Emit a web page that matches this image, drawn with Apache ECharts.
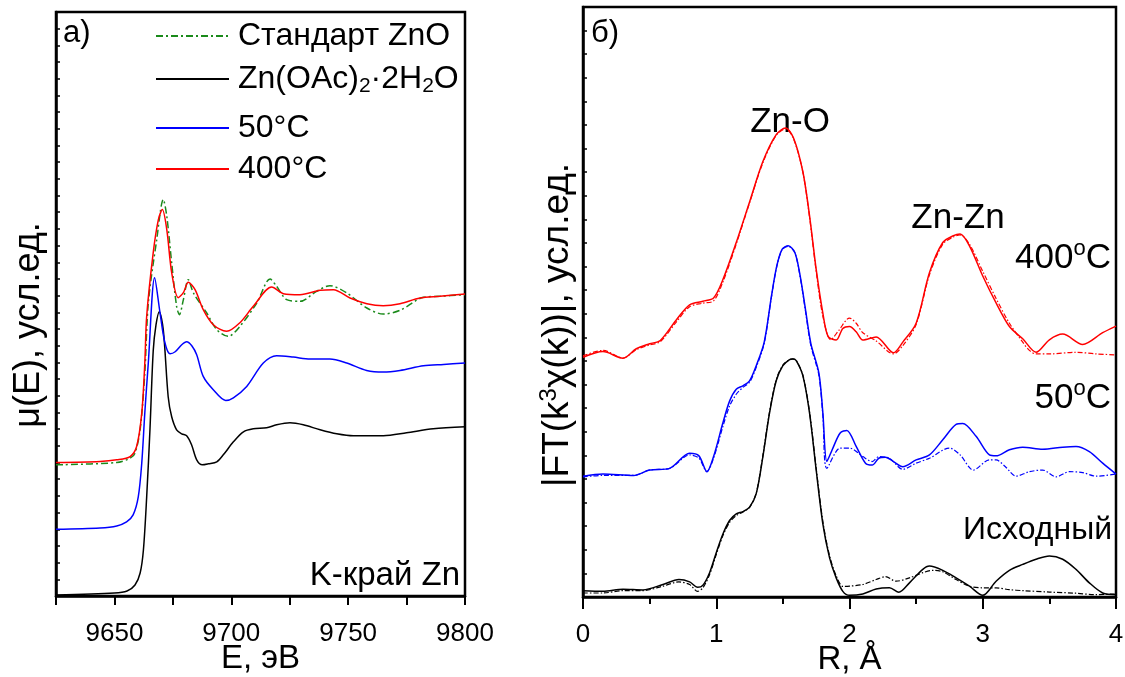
<!DOCTYPE html>
<html>
<head>
<meta charset="utf-8">
<script src="https://cdn.jsdelivr.net/npm/echarts@6/dist/echarts.min.js"></script>
<style>
  html, body { margin: 0; padding: 0; background: #fff; }
  #chart { width: 1125px; height: 677px; }
</style>
</head>
<body>
<div id="chart"></div>
<script>
// ---- panel а) XANES, E (eV) vs mu(E) ----
const eZnO = [9625, 9651, 9656.7, 9658.8, 9661, 9663, 9664.5, 9668.1, 9670.9, 9672.4, 9674.5, 9676.6, 9677.8, 9679.5, 9681.6, 9683.8, 9689.5, 9693.8, 9698.7, 9703.7, 9710.9, 9716.6, 9719.4, 9723.7, 9729.4, 9736.5, 9742.2, 9749.4, 9758, 9765, 9772.2, 9782.2, 9789.3, 9800];
const muZnO = [78.6, 80, 82.6, 85.6, 99.6, 133.6, 175.6, 213.6, 237.6, 227.6, 199.6, 173.6, 168.6, 177.6, 189.6, 181.6, 169.6, 159.6, 155.6, 161.6, 175.6, 190, 185.6, 177.6, 176.6, 182.6, 186, 181.6, 172.6, 169, 171.2, 179, 179.6, 180.6];

const eAc = [9625, 9650, 9655.4, 9658.8, 9661, 9662.4, 9663.8, 9665.2, 9666.6, 9667.8, 9669.2, 9670.9, 9673, 9674.5, 9676.6, 9678.8, 9680.9, 9683, 9685.2, 9687.6, 9690.2, 9693.8, 9696.6, 9700.9, 9705.2, 9709.4, 9715.1, 9719.4, 9725.1, 9730.8, 9738, 9745.1, 9752.2, 9765.1, 9775, 9786.4, 9800];
const muAc = [0.6, 1.8, 3, 6.6, 13.8, 27.6, 59.4, 99.6, 147, 162.6, 170.4, 159.6, 119.4, 107.4, 99.6, 97.2, 96, 90.6, 81.6, 78.6, 79.2, 80.4, 84.6, 92.4, 98.4, 100.2, 100.8, 102.6, 103.8, 102.6, 99.6, 97.2, 96, 96, 97.8, 100.2, 101.4];

const e50 = [9625, 9643.8, 9651, 9655.2, 9658, 9660.2, 9661.7, 9663, 9664.5, 9667.2, 9669.5, 9671.6, 9673.8, 9676, 9678.8, 9680.9, 9683.1, 9685.2, 9688, 9692.3, 9697.6, 9700.9, 9706.6, 9713.7, 9719.4, 9726.5, 9733.7, 9742.2, 9749.4, 9757.9, 9765, 9772.2, 9782.2, 9790.8, 9800];
const mu50 = [40, 40.8, 42, 44.4, 48.6, 59.4, 79.8, 109.8, 139.8, 190.8, 169.8, 151.8, 145.2, 146.4, 150.6, 152.4, 150, 144.6, 131.6, 123.6, 117.2, 118.8, 125.6, 139.6, 144, 143.2, 142, 142, 139.6, 135.2, 134.2, 135.2, 138, 138.8, 139.6];

const e400 = [9625, 9643.8, 9651, 9656.7, 9659.5, 9661.7, 9663, 9663.8, 9666.6, 9668.8, 9670.5, 9672.4, 9674.5, 9677.3, 9679.5, 9681.6, 9684.5, 9688, 9692.3, 9698, 9703.7, 9709.4, 9717.3, 9722.3, 9729.4, 9738, 9743.7, 9750.8, 9758, 9765, 9772.2, 9780.7, 9789.3, 9800];
const mu400 = [80, 80.6, 81.6, 83.6, 89.6, 109.6, 139.6, 167.6, 205.8, 225.6, 231.6, 219.6, 193.8, 178.8, 181.8, 188, 183.6, 171.6, 162.6, 158.6, 163.8, 173.6, 185.2, 181.2, 180.6, 183.2, 183.6, 178.6, 175.2, 174, 175.2, 178.6, 179.6, 181];

// ---- panel б) Fourier transforms, R (A) vs |FT| ; solid = experiment, dash-dot = fit ----
const rAc = [0, 0.15, 0.3, 0.45, 0.6, 0.72, 0.8, 0.86, 0.9, 0.95, 1.0, 1.05, 1.1, 1.15, 1.2, 1.25, 1.3, 1.35, 1.4, 1.45, 1.5, 1.55, 1.575, 1.6, 1.65, 1.7, 1.75, 1.8, 1.85, 1.9, 1.95, 2.0, 2.1, 2.2, 2.3, 2.37, 2.45, 2.55, 2.6, 2.7, 2.8, 2.9, 3.0, 3.1, 3.2, 3.3, 3.4, 3.5, 3.6, 3.7, 3.8, 3.9, 4.0];
const ftAc = [2.7, 2.4, 3.3, 3.0, 5.3, 7.4, 6.4, 4.1, 5.0, 10.3, 18.8, 26.7, 32.4, 35.2, 36.2, 38.1, 43.8, 59.5, 78, 91.6, 98, 100.6, 100.9, 100.2, 93.8, 78, 53.8, 31, 16.7, 8.1, 2.4, 0.7, 1.3, 3.4, 3.9, 2.0, 6.0, 11.7, 13.1, 11.3, 8.1, 4.6, 0.7, 6.7, 11.3, 13.8, 16.0, 17.4, 16.0, 11.7, 6.0, 1.7, 1.0];
const rAcFit = [0, 0.15, 0.3, 0.45, 0.6, 0.72, 0.8, 0.86, 0.9, 0.95, 1.0, 1.05, 1.1, 1.15, 1.2, 1.25, 1.3, 1.35, 1.4, 1.45, 1.5, 1.55, 1.575, 1.6, 1.65, 1.7, 1.75, 1.8, 1.85, 1.9, 1.95, 2.0, 2.1, 2.2, 2.27, 2.35, 2.45, 2.55, 2.63, 2.7, 2.8, 2.9, 3.0, 3.1, 3.2, 3.3, 3.5, 3.7, 3.85, 4.0];
const ftAcFit = [1.7, 1.7, 2.7, 2.7, 4.6, 6.4, 5.3, 2.4, 3.9, 9.5, 18, 26, 31.6, 34.5, 36, 38, 44, 60, 78.5, 92, 98.3, 100.6, 100.9, 100.3, 94, 78.5, 54.5, 32, 17.5, 9, 4.5, 4.6, 5.3, 7.4, 8.6, 6.7, 8.1, 10.3, 11.3, 10.7, 7.4, 4.6, 3.9, 3.9, 3.1, 2.7, 2.1, 1.6, 1.0, 1.3];

const r50 = [0, 0.15, 0.38, 0.5, 0.65, 0.8, 0.87, 0.93, 0.98, 1.05, 1.1, 1.15, 1.2, 1.25, 1.3, 1.36, 1.414, 1.454, 1.495, 1.54, 1.59, 1.63, 1.67, 1.71, 1.77, 1.8, 1.83, 1.87, 1.93, 1.98, 2.05, 2.12, 2.17, 2.22, 2.27, 2.33, 2.4, 2.5, 2.6, 2.7, 2.8, 2.85, 2.95, 3.05, 3.1, 3.2, 3.3, 3.45, 3.6, 3.7, 3.8, 3.9, 4.0];
const ft50 = [51.2, 52.1, 51.5, 53.8, 54.5, 60.9, 59.8, 53.1, 59.5, 73.8, 83, 88, 89.5, 91.6, 98, 108, 127.4, 140.2, 147.4, 148.8, 146, 136, 121.7, 107.4, 95, 78, 57.4, 62.4, 69.5, 70.6, 63.8, 56.7, 55.9, 58.8, 59.2, 57.4, 55.2, 58.1, 60.2, 66.6, 73.1, 73.5, 68.1, 60.2, 59.8, 62.4, 63.5, 62.6, 63.5, 63.8, 61.6, 56.7, 52.1];
const r50Fit = [0, 0.15, 0.38, 0.5, 0.65, 0.8, 0.87, 0.93, 0.98, 1.05, 1.1, 1.15, 1.2, 1.25, 1.3, 1.36, 1.414, 1.454, 1.495, 1.54, 1.59, 1.63, 1.67, 1.71, 1.77, 1.8, 1.83, 1.93, 2.0, 2.1, 2.17, 2.22, 2.3, 2.4, 2.5, 2.6, 2.75, 2.83, 2.93, 3.05, 3.1, 3.17, 3.25, 3.35, 3.45, 3.55, 3.65, 3.75, 3.85, 4.0];
const ft50Fit = [50.9, 51.5, 51.5, 53.8, 54.5, 60.2, 58.8, 53.1, 58.8, 72.3, 80.9, 85.9, 88.8, 91, 97.3, 107.5, 127, 140, 147.2, 148.6, 145.8, 135.5, 121, 106.5, 94, 77, 54.5, 63.1, 63.1, 59.5, 57.4, 59.5, 58.8, 54.1, 56.7, 58.8, 63.1, 60.2, 53.8, 58.1, 58.1, 55.2, 51.2, 53.1, 53.8, 50.9, 53.1, 52.7, 51.2, 52.1];

const r400 = [0, 0.15, 0.3, 0.4, 0.5, 0.58, 0.7, 0.8, 0.9, 0.98, 1.05, 1.15, 1.25, 1.35, 1.45, 1.52, 1.58, 1.65, 1.7, 1.75, 1.8, 1.84, 1.9, 1.95, 2.0, 2.05, 2.1, 2.2, 2.33, 2.4, 2.5, 2.6, 2.7, 2.78, 2.83, 2.9, 3.0, 3.1, 3.2, 3.3, 3.4, 3.5, 3.6, 3.75, 3.9, 4.0];
const ft400 = [101.6, 104, 101.2, 105.2, 107.3, 108.7, 117.4, 123.8, 125.3, 126.7, 134.5, 150.2, 167.4, 184.5, 195.9, 198.7, 194.5, 180.2, 161.6, 138.8, 120.3, 110.3, 108.9, 113.8, 114.6, 112.4, 108.9, 110.2, 103.5, 108, 116, 137.4, 150.2, 153.1, 153.8, 148.8, 136, 124.6, 114.6, 109.4, 103.7, 109, 111.4, 107, 112, 114.8];
const r400Fit = [0, 0.15, 0.3, 0.4, 0.5, 0.58, 0.7, 0.8, 0.9, 0.98, 1.05, 1.15, 1.25, 1.35, 1.45, 1.52, 1.58, 1.65, 1.7, 1.75, 1.8, 1.86, 1.92, 2.0, 2.05, 2.1, 2.2, 2.33, 2.4, 2.5, 2.6, 2.7, 2.78, 2.83, 2.9, 3.0, 3.1, 3.2, 3.3, 3.35, 3.4, 3.5, 3.7, 3.85, 4.0];
const ft400Fit = [102.2, 104.5, 101.2, 104.8, 106.8, 108.2, 116.5, 123, 124.5, 125.5, 133.5, 149.5, 167, 184, 195.6, 198.4, 194.2, 180, 161, 138, 119, 109, 113, 118.2, 116, 112, 108.5, 103, 106.5, 115.5, 136.5, 149.5, 152.6, 153.4, 149.5, 138, 126.5, 116, 108, 104.5, 103, 103, 103.7, 103, 102.6];

const legendNames = ['Стандарт ZnO', 'Zn(OAc)2·2H2O', '50°C', '400°C'];
const legendRowsY = [35, 78, 127, 168];

const FONT = "'Liberation Sans', Arial, sans-serif";
const DASHDOT = [7, 3, 2, 3];
const FITDASH = [5, 2, 1.5, 2];

const zip = (xs, ys) => xs.map((x, i) => [x, ys[i]]);

function lineSeries(name, grid, xs, ys, color, dash, width) {
    return {
        name: name,
        type: 'line',
        xAxisIndex: grid,
        yAxisIndex: grid,
        data: zip(xs, ys),
        symbol: 'none',
        showSymbol: false,
        smooth: 0.3,
        lineStyle: { color: color, width: width || 1.5, type: dash || 'solid' },
        itemStyle: { color: color },
        animation: false,
        z: 3
    };
}

const chart = echarts.init(document.getElementById('chart'), null, { renderer: 'canvas' });

const axisCommon = {
    axisLine: { lineStyle: { color: '#000', width: 2.5 } },
    splitLine: { show: false }
};

const option = {
    backgroundColor: '#fff',
    animation: false,
    textStyle: { fontFamily: FONT },
    grid: [
        { left: 56, right: 660, top: 12, bottom: 81, show: true, borderColor: '#000', borderWidth: 2.5, containLabel: false, outerBoundsMode: 'none' },
        { left: 583, right: 9, top: 7, bottom: 80, show: true, borderColor: '#000', borderWidth: 2.5, containLabel: false, outerBoundsMode: 'none' }
    ],
    xAxis: [
        Object.assign({}, axisCommon, {
            gridIndex: 0, type: 'value', min: 9625, max: 9800, interval: 25,
            axisTick: { length: 9, lineStyle: { color: '#000', width: 2 } },
            axisLabel: {
                color: '#000', fontSize: 26, fontFamily: FONT, margin: 25,
                formatter: v => (v % 50 === 0 ? String(v) : '')
            },
            name: 'E, эВ', nameLocation: 'middle', nameGap: 46, nameMoveOverlap: false,
            nameTextStyle: { color: '#000', fontSize: 33, fontFamily: FONT }
        }),
        Object.assign({}, axisCommon, {
            gridIndex: 1, type: 'value', min: 0, max: 4, interval: 1,
            axisTick: { length: 12, lineStyle: { color: '#000', width: 2 } },
            minorTick: { show: true, splitNumber: 2, length: 7, lineStyle: { color: '#000', width: 2 } },
            axisLabel: { color: '#000', fontSize: 26, fontFamily: FONT, margin: 25 },
            name: 'R, Å', nameLocation: 'middle', nameGap: 46, nameMoveOverlap: false,
            nameTextStyle: { color: '#000', fontSize: 33, fontFamily: FONT }
        })
    ],
    yAxis: [
        Object.assign({}, axisCommon, {
            gridIndex: 0, type: 'value', min: 0, max: 350, interval: 10,
            axisTick: { inside: true, length: 4, lineStyle: { color: '#000', width: 1.5 } },
            axisLabel: { show: false }
        }),
        Object.assign({}, axisCommon, {
            gridIndex: 1, type: 'value', min: 0, max: 250, interval: 10,
            axisTick: { inside: true, length: 4, lineStyle: { color: '#000', width: 1.5 } },
            axisLabel: { show: false }
        })
    ],
    legend: legendNames.map((n, i) => ({
        data: [n],
        orient: 'vertical',
        left: 155,
        top: legendRowsY[i] - 15,
        padding: 0,
        itemWidth: 73,
        itemHeight: 30,
        itemStyle: { opacity: 0 },
        textStyle: {
            color: '#000', fontSize: 32, fontFamily: FONT, padding: [0, 0, 0, 4],
            rich: {
                a: { fontSize: 32, fontFamily: FONT, color: '#000' },
                s: { fontSize: 21, fontFamily: FONT, color: '#000', padding: [15, 0, 0, 0] }
            }
        },
        formatter: name => name === legendNames[1]
            ? '{a|Zn(OAc)}{s|2}{a|·2H}{s|2}{a|O}'
            : name,
        selectedMode: false
    })),
    graphic: [
        { type: 'text', left: 63, top: 18, style: { text: 'а)', font: '31px ' + FONT, fill: '#000' } },
        { type: 'text', left: 591, top: 18, style: { text: 'б)', font: '31px ' + FONT, fill: '#000' } },
        { type: 'text', x: 460, y: 576, style: { text: 'K-край Zn', font: '33px ' + FONT, fill: '#000', align: 'right', verticalAlign: 'middle' } },
        { type: 'text', x: 790, y: 122, style: { text: 'Zn-O', font: '35px ' + FONT, fill: '#000', align: 'center', verticalAlign: 'middle' } },
        { type: 'text', x: 958, y: 218, style: { text: 'Zn-Zn', font: '35px ' + FONT, fill: '#000', align: 'center', verticalAlign: 'middle' } },
        {
            type: 'text', x: 1111, y: 258,
            style: {
                text: '{a|400}{s|o}{a|C}', align: 'right', verticalAlign: 'middle', fill: '#000',
                rich: { a: { fontSize: 35, fontFamily: FONT }, s: { fontSize: 22, fontFamily: FONT, padding: [0, 0, 18, 0] } }
            }
        },
        {
            type: 'text', x: 1111, y: 398,
            style: {
                text: '{a|50}{s|o}{a|C}', align: 'right', verticalAlign: 'middle', fill: '#000',
                rich: { a: { fontSize: 35, fontFamily: FONT }, s: { fontSize: 22, fontFamily: FONT, padding: [0, 0, 18, 0] } }
            }
        },
        { type: 'text', x: 1112, y: 530, style: { text: 'Исходный', font: '32px ' + FONT, fill: '#000', align: 'right', verticalAlign: 'middle' } },
        // rotated y axis titles
        { type: 'text', x: 29, y: 325, rotation: Math.PI / 2, style: { text: 'μ(E), усл.ед.', font: '36px ' + FONT, fill: '#000', align: 'center', verticalAlign: 'middle' } },
        {
            type: 'text', x: 558, y: 325, rotation: Math.PI / 2,
            style: {
                text: '{a||FT(k}{s|3}{a|χ(k))|, усл.ед.}', align: 'center', verticalAlign: 'middle', fill: '#000',
                rich: { a: { fontSize: 37, fontFamily: FONT }, s: { fontSize: 24, fontFamily: FONT, padding: [0, 0, 18, 0] } }
            }
        }
    ],
    series: [
        lineSeries(legendNames[0], 0, eZnO, muZnO, '#1a8a1a', DASHDOT, 1.5),
        lineSeries(legendNames[1], 0, eAc, muAc, '#000000'),
        lineSeries(legendNames[2], 0, e50, mu50, '#0000ff'),
        lineSeries(legendNames[3], 0, e400, mu400, '#ff0000'),
        lineSeries('ft-acetate', 1, rAc, ftAc, '#000000'),
        lineSeries('ft-acetate-fit', 1, rAcFit, ftAcFit, '#000000', FITDASH, 1.2),
        lineSeries('ft-50', 1, r50, ft50, '#0000ff'),
        lineSeries('ft-50-fit', 1, r50Fit, ft50Fit, '#0000ff', FITDASH, 1.2),
        lineSeries('ft-400', 1, r400, ft400, '#ff0000'),
        lineSeries('ft-400-fit', 1, r400Fit, ft400Fit, '#ff0000', FITDASH, 1.2)
    ]
};

chart.setOption(option);
</script>
</body>
</html>
